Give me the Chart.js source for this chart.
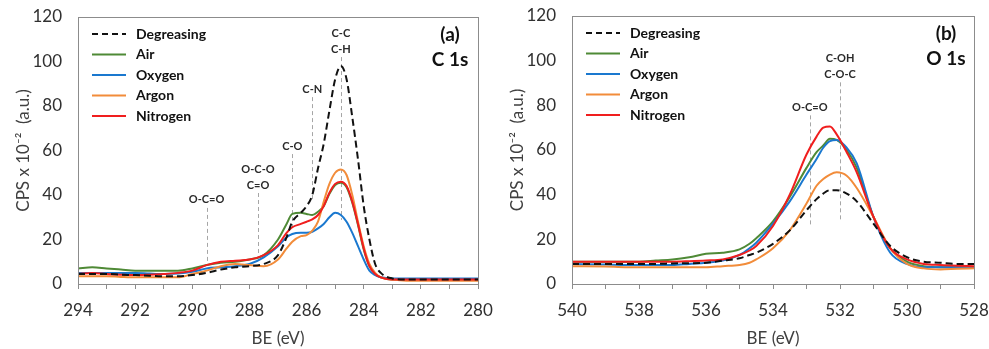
<!DOCTYPE html>
<html>
<head>
<meta charset="utf-8">
<script src="https://cdn.jsdelivr.net/npm/chart.js@4.4.1/dist/chart.umd.min.js"></script>
<style>
  body { margin: 0; background: #fff; }
  #wrapA { position: absolute; left: 0; top: 0; width: 494px; height: 349px; }
  #wrapB { position: absolute; left: 494px; top: 0; width: 495px; height: 349px; }
</style>
</head>
<body>
<div id="wrapA"><canvas id="chartA"></canvas></div>
<div id="wrapB"><canvas id="chartB"></canvas></div>
<script>
// ---- Panel (a) C 1s ----
const beA = [294, 293.5, 293, 292.5, 292, 291.5, 291, 290.5, 290, 289.5, 289, 288.5, 288, 287.5, 287, 286.7, 286.5, 286.2, 286, 285.8, 285.6, 285.4, 285.2, 285, 284.8, 284.6, 284.4, 284.2, 284, 283.8, 283.6, 283.4, 283, 282.5, 282, 281, 280];
const degreasingA = [4.5, 4.5, 4.5, 4.2, 4, 3.7, 3.5, 3.5, 4, 5, 6.5, 7.5, 8, 9, 13, 21, 28, 32, 35, 40, 52, 63, 78, 92, 98, 92, 75, 56, 35, 20, 9, 5, 2.5, 2, 2, 2, 2];
const airA = [7, 7.5, 7, 6.5, 6, 6, 6, 6, 7, 8.5, 9.5, 10, 11, 13, 20, 27, 31.5, 32, 31.5, 31, 32.5, 35, 40.5, 44.5, 45.5, 43.5, 36.5, 26.5, 15.5, 8, 4.5, 3, 2, 2, 2, 2, 2];
const oxygenA = [5, 5, 5, 5, 5, 4.7, 4.5, 4.7, 5.5, 7, 7.5, 8, 9, 12, 17, 21, 22.5, 23, 23, 23.5, 25, 27, 30, 32, 31, 28, 23, 17, 11, 6, 4, 3, 2.5, 2.5, 2.5, 2.5, 2.5];
const argonA = [3.5, 3.5, 3.5, 3.2, 3, 3, 3, 3, 4.5, 6, 8, 9, 8.5, 8, 11, 16, 19, 21.5, 22, 24, 28, 37, 45, 50, 51.5, 49, 40, 28, 17, 9, 5, 3, 2, 1.5, 1.5, 1.5, 1.5];
const nitrogenA = [4.5, 5, 4.5, 4.2, 4, 4.2, 4.5, 5, 6, 8.5, 10, 10.5, 11, 13, 17.5, 23, 25.5, 27, 28, 29, 31, 35, 41, 45, 46, 44, 37, 27, 16, 8, 4.5, 3, 2, 2, 2, 2, 2];
// peak markers: position, line top, line bottom, label lines
const peaksA = [
  [289.5, 34.2, 9.9, ['O-C=O']],
  [287.7, 40.9, 13, ['O-C-O', 'C=O']],
  [286.5, 58.4, 25.6, ['C-O']],
  [285.8, 84, 37.8, ['C-N']],
  [284.8, 102, 28.8, ['C-C', 'C-H']]
];

// ---- Panel (b) O 1s ----
const beB = [540, 539, 538, 537.5, 537, 536.5, 536, 535.5, 535, 534.7, 534.5, 534, 533.5, 533, 532.7, 532.5, 532.3, 532.1, 531.8, 531.5, 531, 530.5, 530, 529.5, 529, 528.5, 528];
const degreasingB = [9, 9, 9, 9, 9.2, 9.3, 9.5, 10.5, 11.5, 13, 14, 18, 24, 33, 38, 40.5, 42, 42, 40.5, 37, 27, 17, 12, 10, 9.5, 9, 9];
const airB = [10, 10, 10, 10.5, 11, 12, 13.5, 14, 15.5, 18, 20.5, 28, 39, 52, 59, 62, 65, 64.5, 60, 52, 30, 16, 10, 8, 7.5, 7.5, 7.5];
const oxygenB = [9, 8.7, 8.5, 8.5, 8.5, 9, 9.5, 10.5, 13, 16, 18.5, 27, 37, 49, 56, 61, 64, 64.5, 61, 54, 30, 14, 9, 7.5, 7.5, 7.5, 7.5];
const argonB = [8, 7.8, 7.5, 7.5, 7.5, 7.5, 7.5, 8, 8.5, 9.5, 11, 16, 24, 36, 44, 47, 49, 50, 48.5, 43, 30, 16, 9, 7, 6.5, 6.8, 7];
const nitrogenB = [10, 10, 10, 10, 10, 10.2, 10.5, 11, 13, 15, 17, 26, 40, 58, 66, 70, 70.5, 67, 59, 50, 30, 16, 11, 9, 8.5, 8.2, 8];
const peaksB = [
  [532.9, 75.5, 26, ['O-C=O']],
  [532.0, 90.3, 28.3, ['C-OH', 'C-O-C']]
];

const seriesNames = ['Degreasing', 'Air', 'Oxygen', 'Argon', 'Nitrogen'];
const seriesColors = ['#111111', '#4f8a36', '#1a78cf', '#f28c3a', '#f01e1e'];
const drawOrder = [0, 4, 3, 2, 1]; // lower = on top
const FONT = 'Lato, "Open Sans", sans-serif';

function makeDatasets(xs, ys) {
  return ys.map((vals, i) => ({
    label: seriesNames[i],
    data: xs.map((x, k) => ({ x: x, y: vals[k] })),
    borderColor: seriesColors[i],
    borderWidth: 2,
    borderDash: i === 0 ? [7, 4] : [],
    pointRadius: 0,
    fill: false,
    cubicInterpolationMode: 'monotone',
    order: drawOrder[i]
  }));
}

// border box, legend, peak markers and panel tag
const decor = {
  id: 'decor',
  beforeDatasetsDraw(chart) {
    const { ctx, scales: { x, y } } = chart;
    const peaks = chart.options.plugins.decor.peaks;
    ctx.save();
    ctx.strokeStyle = '#a6a6a6';
    ctx.lineWidth = 1;
    ctx.setLineDash([4, 3]);
    peaks.forEach(p => {
      const px = Math.round(x.getPixelForValue(p[0])) + 0.5;
      ctx.beginPath();
      ctx.moveTo(px, y.getPixelForValue(p[1]));
      ctx.lineTo(px, y.getPixelForValue(p[2]));
      ctx.stroke();
    });
    ctx.restore();
  },
  afterDraw(chart) {
    const { ctx, chartArea: a, scales: { x, y } } = chart;
    const opts = chart.options.plugins.decor;
    ctx.save();
    // frame
    ctx.strokeStyle = '#8c8c8c';
    ctx.lineWidth = 1;
    ctx.strokeRect(Math.round(a.left) + 0.5, Math.round(a.top) + 0.5, Math.round(a.right - a.left), Math.round(a.bottom - a.top));
    // peak labels
    ctx.fillStyle = '#2a2a2a';
    ctx.font = 'bold 11px ' + FONT;
    ctx.textAlign = 'center';
    ctx.textBaseline = 'middle';
    opts.peaks.forEach(p => {
      const px = x.getPixelForValue(p[0]);
      const top = y.getPixelForValue(p[1]);
      const lines = p[3];
      lines.forEach((t, j) => {
        ctx.fillText(t, px, top - 8 - (lines.length - 1 - j) * 16);
      });
    });
    // legend
    ctx.font = 'bold 14px ' + FONT;
    ctx.textAlign = 'left';
    seriesNames.forEach((name, i) => {
      const ly = a.top + 17 + i * 20.5;
      ctx.strokeStyle = seriesColors[i];
      ctx.lineWidth = 2;
      ctx.setLineDash(i === 0 ? [6, 4] : []);
      ctx.beginPath();
      ctx.moveTo(a.left + 14, ly);
      ctx.lineTo(a.left + 48, ly);
      ctx.stroke();
      ctx.fillStyle = '#111';
      ctx.fillText(name, a.left + 58, ly);
    });
    ctx.setLineDash([]);
    // panel tag
    ctx.font = 'bold 19px ' + FONT;
    ctx.textAlign = 'center';
    ctx.fillText(opts.tag[0], a.right - 28, a.top + 18);
    ctx.fillText(opts.tag[1], a.right - 28, a.top + 43);
    ctx.restore();
  }
};

function makeChart(id, xs, ys, xmin, xmax, peaks, tag, pad) {
  return new Chart(document.getElementById(id), {
    type: 'line',
    data: { datasets: makeDatasets(xs, ys) },
    plugins: [decor],
    options: {
      responsive: true,
      maintainAspectRatio: false,
      animation: false,
      layout: { padding: pad },
      plugins: {
        legend: { display: false },
        tooltip: { enabled: false },
        decor: { peaks: peaks, tag: tag }
      },
      scales: {
        x: {
          type: 'linear',
          reverse: true,
          min: xmin,
          max: xmax,
          border: { display: false },
          grid: { display: true, drawOnChartArea: false, drawTicks: true, tickLength: 5, color: '#8c8c8c' },
          ticks: {
            stepSize: 1,
            autoSkip: false,
            maxRotation: 0,
            padding: 11,
            color: '#303030',
            font: { family: FONT, size: 17 },
            callback: v => (v % 2 === 0 ? v : '')
          },
          title: { display: true, text: 'BE (eV)', color: '#404040', font: { family: FONT, size: 17 }, padding: { top: 0, bottom: 0 } },
          afterFit: s => { s.height = 65; s.paddingLeft = 0; s.paddingRight = 0; }
        },
        y: {
          min: 0,
          max: 120,
          border: { display: false },
          grid: { display: false, drawTicks: false },
          ticks: { stepSize: 20, padding: 16, color: '#303030', font: { family: FONT, size: 17 } },
          title: { display: true, text: 'CPS x 10\u207B\u00B2  (a.u.)', color: '#404040', font: { family: FONT, size: 17 }, padding: { top: 13, bottom: 4 } },
          afterFit: s => { s.width = 78; s.paddingTop = 0; s.paddingBottom = 0; }
        }
      }
    }
  });
}

makeChart('chartA', beA, [degreasingA, airA, oxygenA, argonA, nitrogenA], 280, 294, peaksA, ['(a)', 'C 1s'], { left: 0, right: 16, top: 17, bottom: 0 });
makeChart('chartB', beB, [degreasingB, airB, oxygenB, argonB, nitrogenB], 528, 540, peaksB, ['(b)', 'O 1s'], { left: 0, right: 15, top: 16, bottom: 0 });
</script>
</body>
</html>
